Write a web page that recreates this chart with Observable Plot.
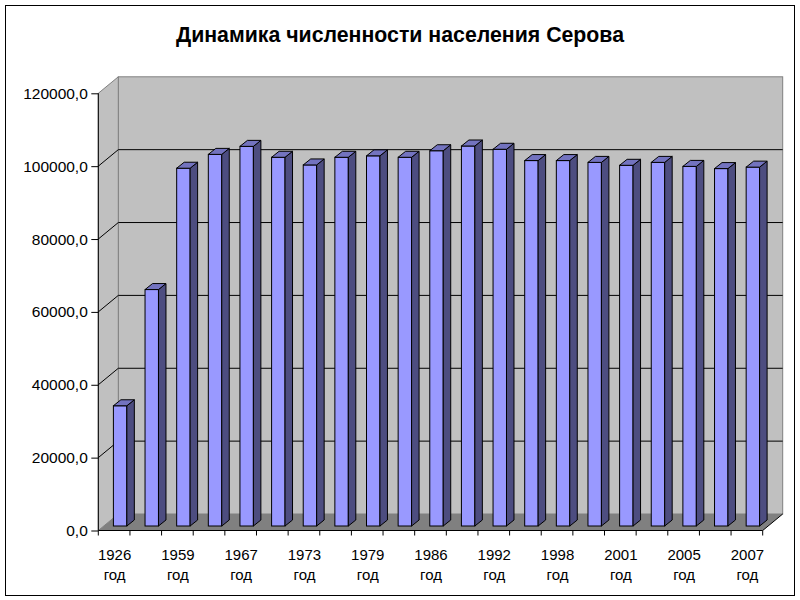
<!DOCTYPE html>
<html>
<head>
<meta charset="utf-8">
<script src="https://cdn.jsdelivr.net/npm/d3@7"></script>
<script src="https://cdn.jsdelivr.net/npm/@observablehq/plot@0.6"></script>
<style>
  body { margin: 0; background: #fff; }
  #wrap { position: relative; width: 800px; height: 600px; overflow: hidden; font-family: Arial, "Liberation Sans", sans-serif; }
  #frame { position: absolute; left: 5px; top: 5px; width: 788px; height: 589px; border: 1px solid #000; }
  #title { position: absolute; left: 0; top: 23px; width: 800px; text-align: center; font-weight: bold; font-size: 21.3px; line-height: 24px; color: #000; }
  #chart { position: absolute; left: 0; top: 60px; }
</style>
</head>
<body>
<div id="wrap">
  <div id="frame"></div>
  <div id="title">Динамика численности населения Серова</div>
  <div id="chart"></div>
</div>
<script>
// Categories (only every other label is shown on the axis)
const years = ["1926","1939","1959","1962","1967","1970","1973","1976","1979","1982","1986",
               "1989","1992","1996","1998","2000","2001","2002","2005","2006","2007"];
// Population values
const population = [33000, 64900, 98200, 102000, 104200, 101200, 99100, 101200, 101600, 101200, 103000,
                    104300, 103400, 100300, 100300, 99800, 99000, 99800, 98700, 98100, 98500];
// Y axis ticks
const yTicks = [0, 20000, 40000, 60000, 80000, 100000, 120000];
// Shown x-axis labels
const shownYears = ["1926","1959","1967","1973","1979","1986","1992","1998","2001","2005","2007"];
const yearSuffix = "год";

const data = years.map((year, i) => ({year, value: population[i]}));

// 3D projection style constants (pixels)
const WALL_DX = 20, WALL_DY = -16.5;
const BAR_DX = 6, BAR_DY = -4.5, BAR_INSET = 9.1;
const DEPTH_DX = 7.5, DEPTH_DY = -6;

const fmt = d => d.toFixed(1).replace(".", ",");

function background(index, scales, values, dim) {
  const {y} = scales;
  const L = dim.marginLeft, R = dim.width - dim.marginRight;
  const y0 = y(0), yT = y(yTicks[yTicks.length - 1]);
  const g = d3.create("svg:g");
  // back wall
  g.append("rect")
    .attr("x", L + WALL_DX).attr("y", yT + WALL_DY)
    .attr("width", R - L).attr("height", y0 - yT)
    .attr("fill", "#c0c0c0").attr("stroke", "#808080");
  // left wall
  g.append("polygon")
    .attr("points", [[L, y0], [L + WALL_DX, y0 + WALL_DY], [L + WALL_DX, yT + WALL_DY], [L, yT]].join(" "))
    .attr("fill", "#c0c0c0").attr("stroke", "#808080");
  // gridlines
  for (const t of yTicks.slice(1, -1)) {
    const yy = y(t);
    g.append("line").attr("x1", L + WALL_DX).attr("x2", R + WALL_DX)
      .attr("y1", yy + WALL_DY).attr("y2", yy + WALL_DY).attr("stroke", "#000");
    g.append("line").attr("x1", L).attr("x2", L + WALL_DX)
      .attr("y1", yy).attr("y2", yy + WALL_DY).attr("stroke", "#000");
  }
  // floor
  g.append("polygon")
    .attr("points", [[L, y0], [L + WALL_DX, y0 + WALL_DY], [R + WALL_DX, y0 + WALL_DY], [R, y0]].join(" "))
    .attr("fill", "#808080").attr("stroke", "none");
  g.append("line").attr("x1", R).attr("y1", y0).attr("x2", R + WALL_DX).attr("y2", y0 + WALL_DY)
    .attr("stroke", "#000");
  return g.node();
}

function foreground(index, scales, values, dim) {
  const {x, y} = scales;
  const L = dim.marginLeft, R = dim.width - dim.marginRight;
  const bw = (R - L) / years.length;
  const y0 = y(0), yT = y(yTicks[yTicks.length - 1]);
  const g = d3.create("svg:g");
  data.forEach(d => {
    const xl = x(d.year) + BAR_INSET + BAR_DX;
    const xr = x(d.year) + bw - BAR_INSET + BAR_DX;
    const yt = y(d.value) + BAR_DY;
    const yb = y0 + BAR_DY;
    g.append("polygon")
      .attr("points", [[xr, yt], [xr + DEPTH_DX, yt + DEPTH_DY], [xr + DEPTH_DX, yb + DEPTH_DY], [xr, yb]].join(" "))
      .attr("fill", "#4d4d80").attr("stroke", "#000").attr("stroke-linejoin", "round");
    g.append("polygon")
      .attr("points", [[xl, yt], [xl + DEPTH_DX, yt + DEPTH_DY], [xr + DEPTH_DX, yt + DEPTH_DY], [xr, yt]].join(" "))
      .attr("fill", "#7373bf").attr("stroke", "#000").attr("stroke-linejoin", "round");
  });
  // axis lines
  g.append("line").attr("x1", L).attr("x2", L).attr("y1", y0).attr("y2", yT).attr("stroke", "#000");
  g.append("line").attr("x1", L).attr("x2", R).attr("y1", y0).attr("y2", y0).attr("stroke", "#000");
  // x tick marks at category boundaries
  const bounds = years.map(c => x(c)).concat([R]);
  for (const bx of bounds) {
    g.append("line").attr("x1", bx).attr("x2", bx).attr("y1", y0).attr("y2", y0 + 5).attr("stroke", "#000");
  }
  return g.node();
}

const plot = Plot.plot({
  width: 800,
  height: 540,
  marginLeft: 98.3,
  marginRight: 37.3,
  marginTop: 33.3,
  marginBottom: 69.5,
  style: {fontFamily: "Arial, 'Liberation Sans', sans-serif", fontSize: "15px", color: "#000", background: "transparent", overflow: "visible"},
  x: {domain: years, padding: 0, round: false, axis: null},
  y: {domain: [0, 120000], axis: null},
  marks: [
    background,
    Plot.barY(data, {
      x: "year", y: "value",
      fill: "#9999ff", stroke: "#000",
      insetLeft: BAR_INSET, insetRight: BAR_INSET,
      dx: BAR_DX, dy: BAR_DY
    }),
    foreground,
    Plot.axisY({ticks: yTicks, tickFormat: fmt, tickSize: 7, tickPadding: 4, label: null, fontSize: 15.5}),
    Plot.text(shownYears, {
      x: d => d, text: d => d + "\n" + yearSuffix,
      frameAnchor: "bottom", lineAnchor: "top", dy: 14.5, lineHeight: 1.36, fontSize: 15, fill: "#000"
    })
  ]
});
document.getElementById("chart").appendChild(plot);
</script>
</body>
</html>
